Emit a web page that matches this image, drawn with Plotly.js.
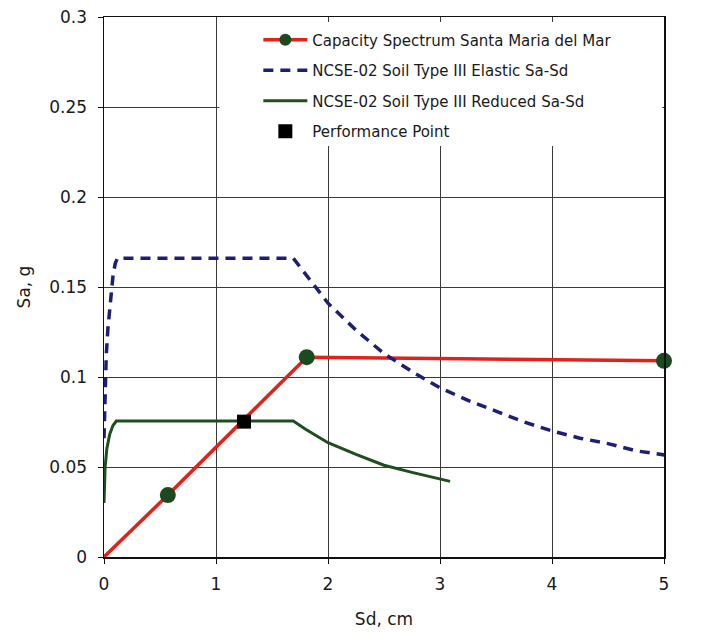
<!DOCTYPE html>
<html>
<head>
<meta charset="utf-8">
<script src="https://cdn.plot.ly/plotly-3.0.1.min.js"></script>
<style>html,body{margin:0;padding:0;background:#fff;}#chart{width:717px;height:632px;}</style>
</head>
<body>
<div id="chart"></div>
<script>
// Capacity spectrum (Santa Maria del Mar)
const capSd = [0, 0.57, 1.81, 5.0];
const capSa = [0, 0.0344, 0.111, 0.109];
const capMarkerSize = [0, 16, 16, 16];

// NCSE-02 Soil Type III Elastic Sa-Sd
const elaSd = [0, 0.004, 0.01, 0.02, 0.035, 0.055, 0.08, 0.1, 0.12, 1.69, 1.8, 2.0, 2.25, 2.5, 2.75, 3.0, 3.25, 3.5, 3.75, 4.0, 4.25, 4.5, 4.75, 5.08];
const elaSa = [0.066, 0.08, 0.095, 0.112, 0.127, 0.142, 0.156, 0.163, 0.166, 0.166, 0.157, 0.141, 0.126, 0.113, 0.103, 0.094, 0.087, 0.081, 0.075, 0.070, 0.066, 0.063, 0.059, 0.056];

// NCSE-02 Soil Type III Reduced Sa-Sd
const redSd = [0, 0.003, 0.01, 0.025, 0.05, 0.08, 0.11, 1.69, 1.8, 2.0, 2.25, 2.5, 2.75, 3.09];
const redSa = [0.030, 0.040, 0.050, 0.060, 0.068, 0.073, 0.0755, 0.0755, 0.071, 0.0635, 0.057, 0.051, 0.047, 0.042];

// Performance point
const ppSd = [1.25];
const ppSa = [0.0752];

const xTicks = [0, 1, 2, 3, 4, 5];
const yTicks = [0, 0.05, 0.1, 0.15, 0.2, 0.25, 0.3];
const yTickText = ['0', '0.05', '0.1', '0.15', '0.2', '0.25', '0.3'];

const FONT = 'DejaVu Sans, Verdana, sans-serif';

const traces = [
  {
    x: capSd, y: capSa, type: 'scatter', mode: 'lines+markers',
    name: 'Capacity Spectrum Santa Maria del Mar', legendgroup: 'a',
    line: {color: '#e3211b', width: 3.5},
    marker: {color: '#1b4a1e', size: capMarkerSize, opacity: 1, line: {width: 0}},
    cliponaxis: false
  },
  {
    x: elaSd, y: elaSa, type: 'scatter', mode: 'lines',
    name: 'NCSE-02 Soil Type III Elastic Sa-Sd', legendgroup: 'b',
    line: {color: '#1c1f78', width: 3.5, dash: '10px,7px'},
    cliponaxis: false
  },
  {
    x: redSd, y: redSa, type: 'scatter', mode: 'lines',
    name: 'NCSE-02 Soil Type III Reduced Sa-Sd', legendgroup: 'c',
    line: {color: '#1d4f1f', width: 3},
    cliponaxis: false
  },
  {
    x: ppSd, y: ppSa, type: 'scatter', mode: 'markers',
    name: 'Performance Point', legendgroup: 'd',
    marker: {color: '#000000', size: 14, symbol: 'square'},
    cliponaxis: false
  }
];

const layout = {
  width: 717, height: 632,
  margin: {l: 104, r: 53, t: 17, b: 75},
  paper_bgcolor: '#ffffff', plot_bgcolor: '#ffffff',
  font: {family: FONT, size: 15, color: '#1a1a1a'},
  showlegend: true,
  legend: {
    x: 0.2756, y: 0.988, xanchor: 'left', yanchor: 'top',
    bgcolor: 'rgba(0,0,0,0)', borderwidth: 0,
    font: {family: FONT, size: 15, color: '#1a1a1a'},
    traceorder: 'grouped', tracegroupgap: 8, itemwidth: 44
  },
  xaxis: {
    range: [0, 5], tickvals: xTicks, ticktext: xTicks.map(String),
    showgrid: true, gridcolor: '#3a3a3a', gridwidth: 1,
    showline: true, linecolor: '#111', linewidth: 1.5, mirror: true,
    ticks: 'outside', ticklen: 5, tickcolor: '#111', ticklabelstandoff: 6,
    zeroline: false,
    tickfont: {family: FONT, size: 17, color: '#1a1a1a'},
    title: {text: 'Sd, cm', font: {family: FONT, size: 17, color: '#1a1a1a'}, standoff: 20}
  },
  yaxis: {
    range: [0, 0.3], tickvals: yTicks, ticktext: yTickText,
    showgrid: true, gridcolor: '#3a3a3a', gridwidth: 1,
    showline: true, linecolor: '#111', linewidth: 1.5, mirror: true,
    ticks: 'outside', ticklen: 5, tickcolor: '#111', ticklabelstandoff: 7,
    zeroline: false,
    tickfont: {family: FONT, size: 17, color: '#1a1a1a'},
    title: {text: 'Sa, g', font: {family: FONT, size: 17, color: '#1a1a1a'}, standoff: 14}
  },
  shapes: [
    {type: 'rect', xref: 'x', yref: 'y', layer: 'between',
     x0: 1.03, x1: 4.985, y0: 0.2283, y1: 0.2972,
     fillcolor: '#ffffff', line: {width: 0}}
  ]
};

Plotly.newPlot('chart', traces, layout, {displayModeBar: false, staticPlot: true});
</script>
</body>
</html>
